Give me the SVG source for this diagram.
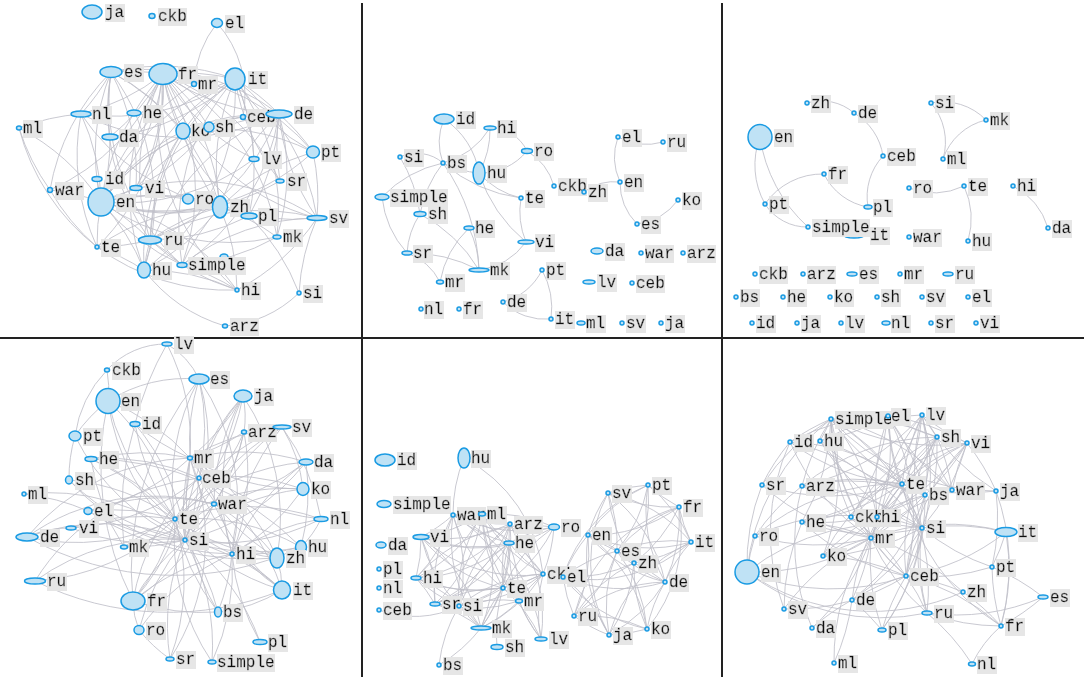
<svg xmlns="http://www.w3.org/2000/svg" width="1084" height="681" viewBox="0 0 1084 681">
<defs>
<filter id="lb" x="0" y="0" width="1" height="1"><feFlood flood-color="#e6e6e6"/><feComposite in="SourceGraphic" operator="over"/></filter>
</defs>
<style>
.e path{fill:none;stroke:#bfbfc9;stroke-width:1;stroke-opacity:.85}
.n ellipse{fill:#bfe2f5;stroke:#1a9be3;stroke-width:1.5}
.n text{font-family:"Liberation Mono","DejaVu Sans Mono",monospace;font-size:16px;fill:#111;stroke:#111;stroke-width:0.3;filter:url(#lb)}
.sep{stroke:#222;stroke-width:2}
</style>
<rect width="1084" height="681" fill="#fff"/>
<g id="separators">
<line class="sep" x1="0" y1="338" x2="1084" y2="338"/>
<line class="sep" x1="362" y1="3" x2="362" y2="677"/>
<line class="sep" x1="722" y1="3" x2="722" y2="677"/>
</g>
<g id="connectors" class="e">
<g id="edges-p1">
<path d="M101 202A220 220 0 0 1 111 72"/><path d="M101 202A220 220 0 0 0 163 74"/><path d="M101 202A220 220 0 0 1 235 79"/><path d="M101 202A220 220 0 0 0 81 114"/><path d="M101 202A220 220 0 0 1 134 113"/><path d="M101 202A220 220 0 0 0 110 137"/><path d="M101 202A220 220 0 0 1 183 131"/><path d="M101 202A220 220 0 0 0 209 127"/><path d="M101 202A220 220 0 0 1 279 114"/><path d="M101 202A220 220 0 0 0 313 152"/><path d="M101 202A220 220 0 0 1 97 179"/><path d="M101 202A220 220 0 0 0 50 190"/><path d="M101 202A220 220 0 0 1 188 199"/><path d="M101 202A220 220 0 0 0 220 207"/><path d="M101 202A220 220 0 0 1 249 216"/><path d="M101 202A220 220 0 0 0 280 181"/><path d="M101 202A220 220 0 0 1 317 218"/><path d="M101 202A220 220 0 0 0 277 237"/><path d="M101 202A220 220 0 0 1 150 240"/><path d="M101 202A220 220 0 0 0 97 247"/><path d="M101 202A220 220 0 0 1 144 270"/><path d="M101 202A220 220 0 0 0 182 265"/><path d="M101 202A220 220 0 0 1 237 290"/><path d="M101 202A220 220 0 0 0 19 128"/><path d="M101 202A220 220 0 0 1 243 117"/><path d="M101 202A220 220 0 0 0 254 159"/><path d="M101 202A220 220 0 0 1 194 84"/>
<path d="M163 74A220 220 0 0 1 235 79"/><path d="M163 74A220 220 0 0 0 111 72"/><path d="M163 74A220 220 0 0 1 81 114"/><path d="M163 74A220 220 0 0 0 134 113"/><path d="M163 74A220 220 0 0 1 110 137"/><path d="M163 74A220 220 0 0 0 183 131"/><path d="M163 74A220 220 0 0 1 209 127"/><path d="M163 74A220 220 0 0 0 279 114"/><path d="M163 74A220 220 0 0 1 313 152"/><path d="M163 74A220 220 0 0 0 254 159"/><path d="M163 74A220 220 0 0 1 136 188"/><path d="M163 74A220 220 0 0 0 188 199"/><path d="M163 74A220 220 0 0 1 220 207"/><path d="M163 74A220 220 0 0 0 249 216"/><path d="M163 74A220 220 0 0 1 280 181"/><path d="M163 74A220 220 0 0 0 317 218"/><path d="M163 74A220 220 0 0 1 277 237"/><path d="M163 74A220 220 0 0 0 150 240"/><path d="M163 74A220 220 0 0 1 97 247"/><path d="M163 74A220 220 0 0 0 144 270"/><path d="M163 74A220 220 0 0 1 182 265"/><path d="M163 74A220 220 0 0 0 237 290"/><path d="M163 74A220 220 0 0 1 50 190"/>
<path d="M235 79A220 220 0 0 0 111 72"/><path d="M235 79A220 220 0 0 1 81 114"/><path d="M235 79A220 220 0 0 0 183 131"/><path d="M235 79A220 220 0 0 1 279 114"/><path d="M235 79A220 220 0 0 0 313 152"/><path d="M235 79A220 220 0 0 1 254 159"/><path d="M235 79A220 220 0 0 0 220 207"/><path d="M235 79A220 220 0 0 1 249 216"/><path d="M235 79A220 220 0 0 0 280 181"/><path d="M235 79A220 220 0 0 1 317 218"/><path d="M235 79A220 220 0 0 0 150 240"/><path d="M235 79A220 220 0 0 1 144 270"/><path d="M235 79A220 220 0 0 0 182 265"/><path d="M235 79A220 220 0 0 1 277 237"/><path d="M235 79A220 220 0 0 0 136 188"/><path d="M235 79A220 220 0 0 1 110 137"/>
<path d="M279 114A220 220 0 0 0 111 72"/><path d="M279 114A220 220 0 0 1 81 114"/><path d="M279 114A220 220 0 0 0 183 131"/><path d="M279 114A220 220 0 0 1 313 152"/><path d="M279 114A220 220 0 0 0 220 207"/><path d="M279 114A220 220 0 0 1 249 216"/><path d="M279 114A220 220 0 0 0 317 218"/><path d="M279 114A220 220 0 0 1 150 240"/><path d="M279 114A220 220 0 0 0 144 270"/><path d="M279 114A220 220 0 0 1 182 265"/><path d="M279 114A220 220 0 0 0 280 181"/><path d="M279 114A220 220 0 0 1 277 237"/><path d="M279 114A220 220 0 0 0 136 188"/>
<path d="M220 207A220 220 0 0 1 183 131"/><path d="M220 207A220 220 0 0 0 111 72"/><path d="M220 207A220 220 0 0 1 81 114"/><path d="M220 207A220 220 0 0 0 150 240"/><path d="M220 207A220 220 0 0 1 144 270"/><path d="M220 207A220 220 0 0 0 182 265"/><path d="M220 207A220 220 0 0 1 313 152"/><path d="M220 207A220 220 0 0 0 317 218"/><path d="M220 207A220 220 0 0 1 277 237"/><path d="M220 207A220 220 0 0 0 97 247"/><path d="M220 207A220 220 0 0 1 237 290"/>
<path d="M111 72A220 220 0 0 1 81 114"/><path d="M111 72A220 220 0 0 0 110 137"/><path d="M111 72A220 220 0 0 1 183 131"/><path d="M111 72A220 220 0 0 0 150 240"/><path d="M111 72A220 220 0 0 1 144 270"/><path d="M111 72A220 220 0 0 0 182 265"/><path d="M111 72A220 220 0 0 1 136 188"/><path d="M111 72A220 220 0 0 0 50 190"/>
<path d="M150 240A220 220 0 0 1 183 131"/><path d="M150 240A220 220 0 0 0 144 270"/><path d="M150 240A220 220 0 0 1 182 265"/><path d="M150 240A220 220 0 0 0 249 216"/><path d="M150 240A220 220 0 0 1 317 218"/><path d="M150 240A220 220 0 0 0 237 290"/><path d="M150 240A220 220 0 0 1 97 247"/>
<path d="M182 265A220 220 0 0 1 237 290"/><path d="M182 265A220 220 0 0 0 277 237"/><path d="M182 265A220 220 0 0 1 317 218"/><path d="M183 131A220 220 0 0 0 144 270"/><path d="M183 131A220 220 0 0 1 313 152"/><path d="M144 270A220 220 0 0 1 237 290"/><path d="M144 270A220 220 0 0 0 97 247"/><path d="M144 270A160 160 0 0 0 225 326"/><path d="M299 293A120 120 0 0 1 225 326"/><path d="M299 293A220 220 0 0 0 249 216"/><path d="M299 293A220 220 0 0 1 317 218"/><path d="M217 23A110 110 0 0 0 194 84"/><path d="M217 23A110 110 0 0 1 243 117"/><path d="M19 128A220 220 0 0 0 97 247"/><path d="M19 128A220 220 0 0 1 81 114"/><path d="M19 128A220 220 0 0 0 50 190"/><path d="M50 190A220 220 0 0 0 97 247"/><path d="M97 247A220 220 0 0 0 237 290"/><path d="M81 114A220 220 0 0 0 97 247"/><path d="M317 218A220 220 0 0 1 237 290"/><path d="M313 152A220 220 0 0 1 317 218"/>
</g>
<g id="edges-p2">
<path d="M444 119A60 60 0 0 0 443 163"/><path d="M444 119A80 80 0 0 1 479 173"/><path d="M490 128A80 80 0 0 1 443 163"/><path d="M490 128A90 90 0 0 1 479 173"/><path d="M490 128A40 40 0 0 1 527 151"/><path d="M527 151A60 60 0 0 1 479 173"/><path d="M527 151A60 60 0 0 1 554 186"/><path d="M400 157A40 40 0 0 1 443 163"/><path d="M400 157A150 150 0 0 1 420 214"/><path d="M443 163A100 100 0 0 0 479 173"/><path d="M443 163A150 150 0 0 0 521 198"/><path d="M443 163A120 120 0 0 0 382 197"/><path d="M443 163A120 120 0 0 0 420 214"/><path d="M443 163A200 200 0 0 1 479 270"/><path d="M479 173A80 80 0 0 0 521 198"/><path d="M479 173A150 150 0 0 0 526 242"/><path d="M382 197A100 100 0 0 0 407 253"/><path d="M420 214A80 80 0 0 0 407 253"/><path d="M420 214A150 150 0 0 1 479 270"/><path d="M469 228A100 100 0 0 0 440 282"/><path d="M469 228A100 100 0 0 1 479 270"/><path d="M407 253A60 60 0 0 1 440 282"/><path d="M407 253A150 150 0 0 1 479 270"/><path d="M521 198A80 80 0 0 0 526 242"/><path d="M526 242A70 70 0 0 1 479 270"/><path d="M618 137A60 60 0 0 0 620 182"/><path d="M618 137A60 60 0 0 0 663 142"/><path d="M584 192A50 50 0 0 1 620 182"/><path d="M620 182A60 60 0 0 0 637 224"/><path d="M637 224A60 60 0 0 0 678 200"/><path d="M542 270A60 60 0 0 1 503 302"/><path d="M542 270A80 80 0 0 1 551 319"/><path d="M503 302A60 60 0 0 0 551 319"/>
</g>
<g id="edges-p3">
<path d="M807 103A50 50 0 0 1 854 113"/><path d="M854 113A60 60 0 0 1 883 156"/><path d="M883 156A60 60 0 0 0 868 207"/><path d="M931 103A60 60 0 0 1 986 120"/><path d="M931 103A60 60 0 0 1 943 159"/><path d="M986 120A60 60 0 0 0 943 159"/><path d="M760 137A80 80 0 0 0 765 204"/><path d="M760 137A150 150 0 0 0 808 227"/><path d="M824 174A70 70 0 0 0 765 204"/><path d="M765 204A50 50 0 0 0 808 227"/><path d="M824 174A60 60 0 0 0 868 207"/><path d="M909 188A70 70 0 0 0 964 186"/><path d="M964 186A80 80 0 0 1 968 241"/><path d="M1013 186A70 70 0 0 1 1048 228"/>
</g>
<g id="edges-p4">
<path d="M185 540A220 220 0 0 1 108 401"/><path d="M185 540A220 220 0 0 0 199 379"/><path d="M185 540A220 220 0 0 1 243 396"/><path d="M185 540A220 220 0 0 0 135 424"/><path d="M185 540A220 220 0 0 1 75 436"/><path d="M185 540A220 220 0 0 0 244 432"/><path d="M185 540A220 220 0 0 1 282 427"/><path d="M185 540A220 220 0 0 0 91 459"/><path d="M185 540A220 220 0 0 1 190 458"/><path d="M185 540A220 220 0 0 0 306 462"/><path d="M185 540A220 220 0 0 1 69 480"/><path d="M185 540A220 220 0 0 0 199 478"/><path d="M185 540A220 220 0 0 1 303 489"/><path d="M185 540A220 220 0 0 0 214 504"/><path d="M185 540A220 220 0 0 1 88 511"/><path d="M185 540A220 220 0 0 0 321 519"/><path d="M185 540A220 220 0 0 1 71 528"/><path d="M185 540A220 220 0 0 0 27 537"/><path d="M185 540A220 220 0 0 1 124 547"/><path d="M185 540A220 220 0 0 0 301 547"/><path d="M185 540A220 220 0 0 1 277 558"/><path d="M185 540A220 220 0 0 0 35 581"/><path d="M185 540A220 220 0 0 1 282 590"/><path d="M185 540A220 220 0 0 0 133 601"/><path d="M185 540A220 220 0 0 1 218 612"/><path d="M185 540A220 220 0 0 0 139 630"/><path d="M185 540A220 220 0 0 1 260 642"/><path d="M185 540A220 220 0 0 0 170 659"/><path d="M185 540A220 220 0 0 1 212 662"/><path d="M185 540A220 220 0 0 0 24 494"/>
<path d="M175 519A220 220 0 0 0 108 401"/><path d="M175 519A220 220 0 0 1 199 379"/><path d="M175 519A220 220 0 0 0 243 396"/><path d="M175 519A220 220 0 0 1 135 424"/><path d="M175 519A220 220 0 0 0 244 432"/><path d="M175 519A220 220 0 0 1 282 427"/><path d="M175 519A220 220 0 0 0 91 459"/><path d="M175 519A220 220 0 0 1 306 462"/><path d="M175 519A220 220 0 0 0 69 480"/><path d="M175 519A220 220 0 0 1 303 489"/><path d="M175 519A220 220 0 0 0 88 511"/><path d="M175 519A220 220 0 0 1 321 519"/><path d="M175 519A220 220 0 0 0 71 528"/><path d="M175 519A220 220 0 0 1 27 537"/><path d="M175 519A220 220 0 0 0 124 547"/><path d="M175 519A220 220 0 0 1 301 547"/><path d="M175 519A220 220 0 0 0 277 558"/><path d="M175 519A220 220 0 0 1 35 581"/><path d="M175 519A220 220 0 0 0 282 590"/><path d="M175 519A220 220 0 0 1 133 601"/><path d="M175 519A220 220 0 0 0 218 612"/><path d="M175 519A220 220 0 0 1 170 659"/><path d="M175 519A220 220 0 0 0 212 662"/>
<path d="M232 554A220 220 0 0 1 108 401"/><path d="M232 554A220 220 0 0 0 199 379"/><path d="M232 554A220 220 0 0 1 243 396"/><path d="M232 554A220 220 0 0 0 244 432"/><path d="M232 554A220 220 0 0 1 282 427"/><path d="M232 554A220 220 0 0 0 190 458"/><path d="M232 554A220 220 0 0 1 306 462"/><path d="M232 554A220 220 0 0 0 303 489"/><path d="M232 554A220 220 0 0 1 321 519"/><path d="M232 554A220 220 0 0 0 301 547"/><path d="M232 554A220 220 0 0 1 282 590"/><path d="M232 554A220 220 0 0 0 133 601"/><path d="M232 554A220 220 0 0 1 218 612"/><path d="M232 554A220 220 0 0 0 260 642"/><path d="M232 554A220 220 0 0 1 212 662"/><path d="M232 554A220 220 0 0 0 139 630"/><path d="M232 554A220 220 0 0 1 69 480"/>
<path d="M190 458A220 220 0 0 0 108 401"/><path d="M190 458A220 220 0 0 1 199 379"/><path d="M190 458A220 220 0 0 0 243 396"/><path d="M190 458A220 220 0 0 1 135 424"/><path d="M190 458A220 220 0 0 0 244 432"/><path d="M190 458A220 220 0 0 1 282 427"/><path d="M190 458A220 220 0 0 0 91 459"/><path d="M190 458A220 220 0 0 1 306 462"/><path d="M190 458A220 220 0 0 0 303 489"/><path d="M190 458A220 220 0 0 1 88 511"/><path d="M190 458A220 220 0 0 0 321 519"/><path d="M190 458A220 220 0 0 1 277 558"/><path d="M190 458A220 220 0 0 0 282 590"/><path d="M190 458A220 220 0 0 1 133 601"/><path d="M190 458A220 220 0 0 0 218 612"/><path d="M190 458A220 220 0 0 1 170 659"/><path d="M190 458A220 220 0 0 0 27 537"/>
<path d="M214 504A220 220 0 0 1 243 396"/><path d="M214 504A220 220 0 0 0 244 432"/><path d="M214 504A220 220 0 0 1 282 427"/><path d="M214 504A220 220 0 0 0 306 462"/><path d="M214 504A220 220 0 0 1 277 558"/><path d="M214 504A220 220 0 0 0 282 590"/><path d="M214 504A220 220 0 0 1 133 601"/><path d="M214 504A220 220 0 0 0 88 511"/><path d="M214 504A220 220 0 0 1 124 547"/><path d="M214 504A220 220 0 0 0 27 537"/>
<path d="M199 478A220 220 0 0 0 199 379"/><path d="M199 478A220 220 0 0 1 243 396"/><path d="M199 478A220 220 0 0 0 91 459"/><path d="M199 478A220 220 0 0 1 303 489"/><path d="M199 478A220 220 0 0 0 277 558"/><path d="M199 478A220 220 0 0 1 282 590"/><path d="M199 478A220 220 0 0 0 133 601"/><path d="M199 478A220 220 0 0 1 71 528"/><path d="M199 478A220 220 0 0 0 35 581"/>
<path d="M167 344A80 80 0 0 0 107 370"/><path d="M167 344A80 80 0 0 1 199 379"/><path d="M167 344A300 300 0 0 0 135 424"/><path d="M167 344A220 220 0 0 1 190 458"/><path d="M107 370A120 120 0 0 0 75 436"/><path d="M107 370A100 100 0 0 1 108 401"/><path d="M199 379A150 150 0 0 0 108 401"/><path d="M243 396A100 100 0 0 1 244 432"/><path d="M244 432A100 100 0 0 1 282 427"/><path d="M282 427A150 150 0 0 1 303 489"/><path d="M282 427A220 220 0 0 1 321 519"/><path d="M306 462A220 220 0 0 1 301 547"/><path d="M321 519A100 100 0 0 1 301 547"/><path d="M277 558A100 100 0 0 1 282 590"/><path d="M282 590A150 150 0 0 1 218 612"/><path d="M133 601A80 80 0 0 0 139 630"/><path d="M133 601A220 220 0 0 0 218 612"/><path d="M139 630A150 150 0 0 0 170 659"/><path d="M75 436A150 150 0 0 0 69 480"/><path d="M91 459A220 220 0 0 0 124 547"/><path d="M24 494A220 220 0 0 1 88 511"/><path d="M27 537A100 100 0 0 1 71 528"/><path d="M35 581A300 300 0 0 0 282 590"/><path d="M108 401A150 150 0 0 0 75 436"/><path d="M108 401A300 300 0 0 0 133 601"/><path d="M135 424A300 300 0 0 0 124 547"/><path d="M91 459A300 300 0 0 1 301 547"/><path d="M88 511A300 300 0 0 0 277 558"/><path d="M27 537A300 300 0 0 0 301 547"/><path d="M243 396A220 220 0 0 1 277 558"/><path d="M199 379A300 300 0 0 0 133 601"/>
</g>
<g id="edges-p5">
<path d="M453 515A150 150 0 0 1 482 514"/><path d="M453 515A150 150 0 0 0 510 524"/><path d="M453 515A150 150 0 0 1 421 537"/><path d="M453 515A150 150 0 0 0 509 543"/><path d="M453 515A150 150 0 0 1 416 578"/><path d="M453 515A150 150 0 0 0 503 588"/><path d="M453 515A150 150 0 0 1 519 601"/><path d="M453 515A150 150 0 0 0 435 604"/><path d="M453 515A150 150 0 0 1 459 606"/><path d="M453 515A150 150 0 0 0 481 628"/><path d="M453 515A150 150 0 0 1 543 574"/><path d="M453 515A150 150 0 0 0 554 527"/><path d="M453 515A150 150 0 0 1 541 639"/>
<path d="M482 514A150 150 0 0 0 510 524"/><path d="M482 514A150 150 0 0 1 421 537"/><path d="M482 514A150 150 0 0 0 509 543"/><path d="M482 514A150 150 0 0 1 416 578"/><path d="M482 514A150 150 0 0 0 503 588"/><path d="M482 514A150 150 0 0 1 435 604"/><path d="M482 514A150 150 0 0 0 459 606"/><path d="M482 514A150 150 0 0 1 481 628"/><path d="M482 514A150 150 0 0 0 543 574"/><path d="M482 514A150 150 0 0 1 554 527"/><path d="M482 514A150 150 0 0 0 519 601"/>
<path d="M510 524A150 150 0 0 1 421 537"/><path d="M510 524A150 150 0 0 0 509 543"/><path d="M510 524A150 150 0 0 1 416 578"/><path d="M510 524A150 150 0 0 0 503 588"/><path d="M510 524A150 150 0 0 1 435 604"/><path d="M510 524A150 150 0 0 0 459 606"/><path d="M510 524A150 150 0 0 1 481 628"/><path d="M510 524A150 150 0 0 0 543 574"/><path d="M510 524A150 150 0 0 1 541 639"/>
<path d="M554 527A150 150 0 0 1 421 537"/><path d="M554 527A150 150 0 0 0 509 543"/><path d="M554 527A150 150 0 0 1 543 574"/><path d="M554 527A150 150 0 0 0 503 588"/><path d="M554 527A150 150 0 0 1 459 606"/><path d="M554 527A150 150 0 0 0 416 578"/>
<path d="M421 537A150 150 0 0 0 509 543"/><path d="M421 537A150 150 0 0 1 416 578"/><path d="M421 537A150 150 0 0 0 503 588"/><path d="M421 537A150 150 0 0 1 435 604"/><path d="M421 537A150 150 0 0 0 459 606"/><path d="M421 537A150 150 0 0 1 481 628"/><path d="M421 537A150 150 0 0 0 543 574"/>
<path d="M509 543A150 150 0 0 1 416 578"/><path d="M509 543A150 150 0 0 0 503 588"/><path d="M509 543A150 150 0 0 1 435 604"/><path d="M509 543A150 150 0 0 0 459 606"/><path d="M509 543A150 150 0 0 1 481 628"/><path d="M509 543A150 150 0 0 0 543 574"/><path d="M509 543A150 150 0 0 1 519 601"/><path d="M509 543A150 150 0 0 0 541 639"/>
<path d="M416 578A150 150 0 0 0 503 588"/><path d="M416 578A150 150 0 0 1 435 604"/><path d="M416 578A150 150 0 0 0 459 606"/><path d="M416 578A150 150 0 0 1 481 628"/><path d="M416 578A150 150 0 0 0 543 574"/>
<path d="M543 574A150 150 0 0 1 503 588"/><path d="M543 574A150 150 0 0 0 519 601"/><path d="M543 574A150 150 0 0 1 435 604"/><path d="M543 574A150 150 0 0 0 459 606"/><path d="M543 574A150 150 0 0 1 481 628"/><path d="M543 574A150 150 0 0 0 541 639"/>
<path d="M503 588A150 150 0 0 1 519 601"/><path d="M503 588A150 150 0 0 0 435 604"/><path d="M503 588A150 150 0 0 1 459 606"/><path d="M503 588A150 150 0 0 0 481 628"/><path d="M503 588A150 150 0 0 1 541 639"/>
<path d="M519 601A150 150 0 0 0 459 606"/><path d="M519 601A150 150 0 0 1 481 628"/><path d="M519 601A150 150 0 0 0 541 639"/><path d="M519 601A150 150 0 0 1 435 604"/><path d="M435 604A150 150 0 0 0 459 606"/><path d="M435 604A150 150 0 0 1 481 628"/><path d="M459 606A150 150 0 0 0 481 628"/><path d="M481 628A150 150 0 0 1 439 665"/><path d="M497 647A150 150 0 0 1 503 588"/><path d="M464 458A150 150 0 0 0 453 515"/><path d="M464 458A150 150 0 0 1 543 574"/><path d="M379 610A100 100 0 0 0 459 606"/><path d="M439 665A150 150 0 0 1 459 606"/>
<path d="M608 493A150 150 0 0 0 588 535"/><path d="M608 493A150 150 0 0 1 617 551"/><path d="M608 493A150 150 0 0 0 634 563"/><path d="M608 493A150 150 0 0 1 648 485"/><path d="M608 493A150 150 0 0 0 679 507"/><path d="M608 493A150 150 0 0 1 665 582"/><path d="M608 493A150 150 0 0 0 609 635"/><path d="M608 493A150 150 0 0 1 691 542"/>
<path d="M648 485A150 150 0 0 0 588 535"/><path d="M648 485A150 150 0 0 1 617 551"/><path d="M648 485A150 150 0 0 0 679 507"/><path d="M648 485A150 150 0 0 1 691 542"/><path d="M648 485A150 150 0 0 0 665 582"/><path d="M648 485A150 150 0 0 1 634 563"/><path d="M648 485A150 150 0 0 0 563 577"/>
<path d="M679 507A150 150 0 0 1 588 535"/><path d="M679 507A150 150 0 0 0 617 551"/><path d="M679 507A150 150 0 0 1 634 563"/><path d="M679 507A150 150 0 0 0 691 542"/><path d="M679 507A150 150 0 0 1 665 582"/><path d="M679 507A150 150 0 0 0 574 616"/><path d="M679 507A150 150 0 0 1 647 629"/>
<path d="M691 542A150 150 0 0 1 588 535"/><path d="M691 542A150 150 0 0 0 617 551"/><path d="M691 542A150 150 0 0 1 634 563"/><path d="M691 542A150 150 0 0 0 665 582"/><path d="M691 542A150 150 0 0 1 563 577"/><path d="M691 542A150 150 0 0 0 609 635"/>
<path d="M588 535A150 150 0 0 0 617 551"/><path d="M588 535A150 150 0 0 1 634 563"/><path d="M588 535A150 150 0 0 0 563 577"/><path d="M588 535A150 150 0 0 1 574 616"/><path d="M588 535A150 150 0 0 0 609 635"/><path d="M588 535A150 150 0 0 1 647 629"/><path d="M588 535A150 150 0 0 0 665 582"/>
<path d="M617 551A150 150 0 0 1 634 563"/><path d="M617 551A150 150 0 0 0 563 577"/><path d="M617 551A150 150 0 0 1 574 616"/><path d="M617 551A150 150 0 0 0 609 635"/><path d="M617 551A150 150 0 0 1 647 629"/><path d="M617 551A150 150 0 0 0 665 582"/>
<path d="M634 563A150 150 0 0 1 563 577"/><path d="M634 563A150 150 0 0 0 574 616"/><path d="M634 563A150 150 0 0 1 609 635"/><path d="M634 563A150 150 0 0 0 647 629"/><path d="M634 563A150 150 0 0 1 665 582"/>
<path d="M665 582A150 150 0 0 1 563 577"/><path d="M665 582A150 150 0 0 0 574 616"/><path d="M665 582A150 150 0 0 1 609 635"/><path d="M665 582A150 150 0 0 0 647 629"/><path d="M563 577A150 150 0 0 0 574 616"/><path d="M563 577A150 150 0 0 1 609 635"/><path d="M563 577A150 150 0 0 0 647 629"/><path d="M574 616A150 150 0 0 0 609 635"/><path d="M574 616A150 150 0 0 1 647 629"/><path d="M609 635A150 150 0 0 0 647 629"/>
</g>
<g id="edges-p6">
<path d="M831 419A220 220 0 0 0 790 442"/><path d="M831 419A220 220 0 0 1 820 441"/><path d="M831 419A220 220 0 0 0 802 486"/><path d="M831 419A220 220 0 0 1 902 484"/><path d="M831 419A220 220 0 0 0 925 495"/><path d="M831 419A220 220 0 0 1 952 490"/><path d="M831 419A220 220 0 0 0 851 517"/><path d="M831 419A220 220 0 0 1 877 517"/><path d="M831 419A220 220 0 0 0 871 538"/><path d="M831 419A220 220 0 0 1 922 528"/><path d="M831 419A220 220 0 0 0 906 576"/><path d="M831 419A220 220 0 0 1 937 437"/><path d="M831 419A220 220 0 0 0 967 443"/><path d="M831 419A220 220 0 0 1 802 522"/><path d="M831 419A220 220 0 0 0 996 491"/><path d="M831 419A220 220 0 0 1 823 556"/><path d="M831 419A220 220 0 0 0 762 485"/>
<path d="M888 416A220 220 0 0 1 820 441"/><path d="M888 416A220 220 0 0 0 902 484"/><path d="M888 416A220 220 0 0 1 925 495"/><path d="M888 416A220 220 0 0 0 952 490"/><path d="M888 416A220 220 0 0 1 851 517"/><path d="M888 416A220 220 0 0 0 877 517"/><path d="M888 416A220 220 0 0 1 871 538"/><path d="M888 416A220 220 0 0 0 922 528"/><path d="M888 416A220 220 0 0 1 906 576"/><path d="M888 416A220 220 0 0 0 937 437"/><path d="M888 416A220 220 0 0 1 967 443"/><path d="M888 416A220 220 0 0 0 790 442"/>
<path d="M922 415A220 220 0 0 0 820 441"/><path d="M922 415A220 220 0 0 1 802 486"/><path d="M922 415A220 220 0 0 0 902 484"/><path d="M922 415A220 220 0 0 1 925 495"/><path d="M922 415A220 220 0 0 0 952 490"/><path d="M922 415A220 220 0 0 1 851 517"/><path d="M922 415A220 220 0 0 0 877 517"/><path d="M922 415A220 220 0 0 1 871 538"/><path d="M922 415A220 220 0 0 0 922 528"/><path d="M922 415A220 220 0 0 1 937 437"/><path d="M922 415A220 220 0 0 0 967 443"/><path d="M922 415A220 220 0 0 1 906 576"/><path d="M922 415A220 220 0 0 0 996 491"/>
<path d="M937 437A220 220 0 0 1 902 484"/><path d="M937 437A220 220 0 0 0 925 495"/><path d="M937 437A220 220 0 0 1 952 490"/><path d="M937 437A220 220 0 0 0 851 517"/><path d="M937 437A220 220 0 0 1 877 517"/><path d="M937 437A220 220 0 0 0 871 538"/><path d="M937 437A220 220 0 0 1 922 528"/><path d="M937 437A220 220 0 0 0 906 576"/><path d="M937 437A220 220 0 0 1 802 522"/><path d="M937 437A220 220 0 0 0 802 486"/>
<path d="M967 443A220 220 0 0 0 902 484"/><path d="M967 443A220 220 0 0 1 925 495"/><path d="M967 443A220 220 0 0 0 952 490"/><path d="M967 443A220 220 0 0 1 877 517"/><path d="M967 443A220 220 0 0 0 871 538"/><path d="M967 443A220 220 0 0 1 922 528"/><path d="M967 443A220 220 0 0 0 906 576"/><path d="M967 443A220 220 0 0 1 996 491"/><path d="M967 443A220 220 0 0 0 823 556"/>
<path d="M871 538A220 220 0 0 1 790 442"/><path d="M871 538A220 220 0 0 0 820 441"/><path d="M871 538A220 220 0 0 1 762 485"/><path d="M871 538A220 220 0 0 0 802 486"/><path d="M871 538A220 220 0 0 1 902 484"/><path d="M871 538A220 220 0 0 0 925 495"/><path d="M871 538A220 220 0 0 1 952 490"/><path d="M871 538A220 220 0 0 0 802 522"/><path d="M871 538A220 220 0 0 1 755 536"/><path d="M871 538A220 220 0 0 0 823 556"/><path d="M871 538A220 220 0 0 1 747 572"/><path d="M871 538A220 220 0 0 0 906 576"/><path d="M871 538A220 220 0 0 1 852 600"/><path d="M871 538A220 220 0 0 0 882 630"/><path d="M871 538A220 220 0 0 1 963 592"/><path d="M871 538A220 220 0 0 0 927 613"/><path d="M871 538A220 220 0 0 1 1006 532"/><path d="M871 538A220 220 0 0 0 784 609"/><path d="M871 538A220 220 0 0 1 812 628"/><path d="M871 538A220 220 0 0 0 834 663"/>
<path d="M906 576A220 220 0 0 1 802 522"/><path d="M906 576A220 220 0 0 0 823 556"/><path d="M906 576A220 220 0 0 1 747 572"/><path d="M906 576A220 220 0 0 0 992 567"/><path d="M906 576A220 220 0 0 1 963 592"/><path d="M906 576A220 220 0 0 0 852 600"/><path d="M906 576A220 220 0 0 1 927 613"/><path d="M906 576A220 220 0 0 0 882 630"/><path d="M906 576A220 220 0 0 1 1001 626"/><path d="M906 576A220 220 0 0 0 1006 532"/><path d="M906 576A220 220 0 0 1 922 528"/><path d="M906 576A220 220 0 0 0 851 517"/><path d="M906 576A220 220 0 0 1 784 609"/>
<path d="M922 528A220 220 0 0 0 790 442"/><path d="M922 528A220 220 0 0 1 820 441"/><path d="M922 528A220 220 0 0 0 802 486"/><path d="M922 528A220 220 0 0 1 802 522"/><path d="M922 528A220 220 0 0 0 755 536"/><path d="M922 528A220 220 0 0 1 823 556"/><path d="M922 528A220 220 0 0 0 992 567"/><path d="M922 528A220 220 0 0 1 852 600"/><path d="M922 528A220 220 0 0 0 927 613"/><path d="M922 528A220 220 0 0 1 882 630"/><path d="M922 528A220 220 0 0 0 747 572"/><path d="M922 528A220 220 0 0 1 1006 532"/>
<path d="M902 484A220 220 0 0 1 790 442"/><path d="M902 484A220 220 0 0 0 820 441"/><path d="M902 484A220 220 0 0 1 762 485"/><path d="M902 484A220 220 0 0 0 802 486"/><path d="M902 484A220 220 0 0 1 802 522"/><path d="M902 484A220 220 0 0 0 755 536"/><path d="M902 484A220 220 0 0 1 823 556"/><path d="M902 484A220 220 0 0 0 852 600"/><path d="M902 484A220 220 0 0 1 927 613"/><path d="M902 484A220 220 0 0 0 996 491"/>
<path d="M925 495A220 220 0 0 0 790 442"/><path d="M925 495A220 220 0 0 1 820 441"/><path d="M925 495A220 220 0 0 0 802 486"/><path d="M925 495A220 220 0 0 1 802 522"/><path d="M925 495A220 220 0 0 0 823 556"/><path d="M925 495A220 220 0 0 1 882 630"/><path d="M925 495A220 220 0 0 0 927 613"/><path d="M925 495A220 220 0 0 1 852 600"/>
<path d="M1001 626A220 220 0 0 0 1043 597"/><path d="M1001 626A120 120 0 0 0 972 664"/><path d="M1001 626A220 220 0 0 1 992 567"/><path d="M1001 626A220 220 0 0 0 1006 532"/><path d="M1001 626A220 220 0 0 1 927 613"/><path d="M1001 626A220 220 0 0 0 963 592"/><path d="M1001 626A220 220 0 0 1 902 484"/>
<path d="M747 572A220 220 0 0 1 755 536"/><path d="M747 572A220 220 0 0 1 762 485"/><path d="M747 572A220 220 0 0 0 963 592"/><path d="M747 572A220 220 0 0 0 927 613"/><path d="M747 572A220 220 0 0 1 831 419"/><path d="M1043 597A220 220 0 0 0 992 567"/><path d="M1043 597A220 220 0 0 1 927 613"/><path d="M834 663A220 220 0 0 0 852 600"/><path d="M784 609A220 220 0 0 1 802 522"/><path d="M812 628A220 220 0 0 1 852 600"/><path d="M882 630A220 220 0 0 0 852 600"/><path d="M790 442A220 220 0 0 0 762 485"/><path d="M755 536A220 220 0 0 1 802 486"/><path d="M996 491A220 220 0 0 1 992 567"/><path d="M1006 532A220 220 0 0 1 992 567"/><path d="M996 491A220 220 0 0 1 1001 626"/><path d="M790 442A220 220 0 0 0 784 609"/><path d="M802 486A220 220 0 0 0 812 628"/><path d="M972 664A220 220 0 0 0 927 613"/>
</g>
</g>
<g id="nodes-p1" class="n">
<g id="p1-ja"><ellipse cx="92" cy="12" rx="10" ry="7"/><text x="105" y="17">ja</text></g>
<g id="p1-ckb"><ellipse cx="152" cy="16" rx="3" ry="2.5"/><text x="158" y="21">ckb</text></g>
<g id="p1-el"><ellipse cx="217" cy="23" rx="5.5" ry="4.5"/><text x="225" y="28">el</text></g>
<g id="p1-es"><ellipse cx="111" cy="72" rx="11" ry="5.5"/><text x="124" y="77">es</text></g>
<g id="p1-fr"><ellipse cx="163" cy="74" rx="14" ry="10.5"/><text x="178" y="79">fr</text></g>
<g id="p1-mr"><ellipse cx="194" cy="84" rx="2.5" ry="2.5"/><text x="198" y="89">mr</text></g>
<g id="p1-it"><ellipse cx="235" cy="79" rx="10" ry="11"/><text x="248" y="84">it</text></g>
<g id="p1-nl"><ellipse cx="81" cy="114" rx="10" ry="3"/><text x="92" y="119">nl</text></g>
<g id="p1-he"><ellipse cx="134" cy="113" rx="7" ry="3"/><text x="143" y="118">he</text></g>
<g id="p1-ml"><ellipse cx="19" cy="128" rx="2.5" ry="2"/><text x="23" y="133">ml</text></g>
<g id="p1-da"><ellipse cx="110" cy="137" rx="8" ry="3"/><text x="119" y="142">da</text></g>
<g id="p1-ko"><ellipse cx="183" cy="131" rx="7" ry="8"/><text x="191" y="136">ko</text></g>
<g id="p1-sh"><ellipse cx="209" cy="127" rx="5" ry="5"/><text x="215" y="132">sh</text></g>
<g id="p1-ceb"><ellipse cx="243" cy="117" rx="2.5" ry="2.5"/><text x="247" y="122">ceb</text></g>
<g id="p1-de"><ellipse cx="279" cy="114" rx="13" ry="4"/><text x="294" y="119">de</text></g>
<g id="p1-pt"><ellipse cx="313" cy="152" rx="6.5" ry="6"/><text x="321" y="157">pt</text></g>
<g id="p1-lv"><ellipse cx="254" cy="159" rx="5" ry="2.5"/><text x="262" y="164">lv</text></g>
<g id="p1-id"><ellipse cx="97" cy="179" rx="5" ry="2.5"/><text x="105" y="184">id</text></g>
<g id="p1-war"><ellipse cx="50" cy="190" rx="2.5" ry="2.5"/><text x="55" y="195">war</text></g>
<g id="p1-vi"><ellipse cx="136" cy="188" rx="6" ry="2.5"/><text x="145" y="193">vi</text></g>
<g id="p1-en"><ellipse cx="101" cy="202" rx="13" ry="14"/><text x="116" y="207">en</text></g>
<g id="p1-ro"><ellipse cx="188" cy="199" rx="5.5" ry="5"/><text x="195" y="204">ro</text></g>
<g id="p1-zh"><ellipse cx="220" cy="207" rx="7.5" ry="11"/><text x="230" y="212">zh</text></g>
<g id="p1-pl"><ellipse cx="249" cy="216" rx="8" ry="3"/><text x="258" y="221">pl</text></g>
<g id="p1-sr"><ellipse cx="280" cy="181" rx="4" ry="2"/><text x="287" y="186">sr</text></g>
<g id="p1-sv"><ellipse cx="317" cy="218" rx="10" ry="2.5"/><text x="329" y="223">sv</text></g>
<g id="p1-mk"><ellipse cx="277" cy="237" rx="4" ry="2"/><text x="283" y="242">mk</text></g>
<g id="p1-ru"><ellipse cx="150" cy="240" rx="11.5" ry="4"/><text x="164" y="245">ru</text></g>
<g id="p1-te"><ellipse cx="97" cy="247" rx="2" ry="2"/><text x="101" y="252">te</text></g>
<g id="p1-hu"><ellipse cx="144" cy="270" rx="6.5" ry="8"/><text x="152" y="275">hu</text></g>
<g id="p1-bs"><ellipse cx="224" cy="257" rx="4" ry="3"/></g>
<g id="p1-simple"><ellipse cx="182" cy="265" rx="5" ry="2.5"/><text x="188" y="270">simple</text></g>
<g id="p1-hi"><ellipse cx="237" cy="290" rx="2" ry="2"/><text x="241" y="295">hi</text></g>
<g id="p1-si"><ellipse cx="299" cy="293" rx="2" ry="2"/><text x="303" y="298">si</text></g>
<g id="p1-arz"><ellipse cx="225" cy="326" rx="2.5" ry="2"/><text x="230" y="331">arz</text></g>
</g>
<g id="nodes-p2" class="n">
<g id="p2-id"><ellipse cx="444" cy="119" rx="10" ry="5"/><text x="456" y="124">id</text></g>
<g id="p2-hi"><ellipse cx="490" cy="128" rx="6" ry="2"/><text x="497" y="133">hi</text></g>
<g id="p2-ro"><ellipse cx="527" cy="151" rx="5.5" ry="2.5"/><text x="534" y="156">ro</text></g>
<g id="p2-el"><ellipse cx="618" cy="137" rx="2" ry="2"/><text x="622" y="142">el</text></g>
<g id="p2-ru"><ellipse cx="663" cy="142" rx="2" ry="2"/><text x="667" y="147">ru</text></g>
<g id="p2-si"><ellipse cx="400" cy="157" rx="2" ry="2"/><text x="404" y="162">si</text></g>
<g id="p2-bs"><ellipse cx="443" cy="163" rx="2" ry="2"/><text x="447" y="168">bs</text></g>
<g id="p2-hu"><ellipse cx="479" cy="173" rx="6" ry="11"/><text x="487" y="178">hu</text></g>
<g id="p2-en"><ellipse cx="620" cy="182" rx="2" ry="2"/><text x="624" y="187">en</text></g>
<g id="p2-ckb"><ellipse cx="554" cy="186" rx="2" ry="2"/><text x="558" y="191">ckb</text></g>
<g id="p2-zh"><ellipse cx="584" cy="192" rx="2" ry="2"/><text x="588" y="197">zh</text></g>
<g id="p2-simple"><ellipse cx="382" cy="197" rx="7" ry="3"/><text x="390" y="202">simple</text></g>
<g id="p2-te"><ellipse cx="521" cy="198" rx="2" ry="2"/><text x="525" y="203">te</text></g>
<g id="p2-ko"><ellipse cx="678" cy="200" rx="2" ry="2"/><text x="682" y="205">ko</text></g>
<g id="p2-sh"><ellipse cx="420" cy="214" rx="6" ry="2.5"/><text x="428" y="219">sh</text></g>
<g id="p2-he"><ellipse cx="469" cy="228" rx="5" ry="2"/><text x="475" y="233">he</text></g>
<g id="p2-es"><ellipse cx="637" cy="224" rx="2" ry="2"/><text x="641" y="229">es</text></g>
<g id="p2-vi"><ellipse cx="526" cy="242" rx="8" ry="2"/><text x="535" y="247">vi</text></g>
<g id="p2-sr"><ellipse cx="407" cy="253" rx="5" ry="2"/><text x="413" y="258">sr</text></g>
<g id="p2-da"><ellipse cx="597" cy="251" rx="6" ry="3"/><text x="605" y="256">da</text></g>
<g id="p2-war"><ellipse cx="641" cy="253" rx="2" ry="2"/><text x="645" y="258">war</text></g>
<g id="p2-arz"><ellipse cx="683" cy="253" rx="2" ry="2"/><text x="687" y="258">arz</text></g>
<g id="p2-mk"><ellipse cx="479" cy="270" rx="10" ry="2"/><text x="490" y="275">mk</text></g>
<g id="p2-pt"><ellipse cx="542" cy="270" rx="2" ry="2"/><text x="546" y="275">pt</text></g>
<g id="p2-mr"><ellipse cx="440" cy="282" rx="3.5" ry="2"/><text x="445" y="287">mr</text></g>
<g id="p2-lv"><ellipse cx="589" cy="282" rx="6" ry="2"/><text x="597" y="287">lv</text></g>
<g id="p2-ceb"><ellipse cx="632" cy="283" rx="2" ry="2"/><text x="636" y="288">ceb</text></g>
<g id="p2-nl"><ellipse cx="421" cy="309" rx="2" ry="2"/><text x="424" y="314">nl</text></g>
<g id="p2-fr"><ellipse cx="459" cy="309" rx="2" ry="2"/><text x="463" y="314">fr</text></g>
<g id="p2-de"><ellipse cx="503" cy="302" rx="2" ry="2"/><text x="507" y="307">de</text></g>
<g id="p2-it"><ellipse cx="551" cy="319" rx="2" ry="2"/><text x="555" y="324">it</text></g>
<g id="p2-ml"><ellipse cx="581" cy="323" rx="4" ry="2"/><text x="586" y="328">ml</text></g>
<g id="p2-sv"><ellipse cx="622" cy="323" rx="2" ry="2"/><text x="626" y="328">sv</text></g>
<g id="p2-ja"><ellipse cx="661" cy="323" rx="2" ry="2"/><text x="665" y="328">ja</text></g>
</g>
<g id="nodes-p3" class="n">
<g id="p3-zh"><ellipse cx="807" cy="103" rx="2" ry="2"/><text x="811" y="108">zh</text></g>
<g id="p3-de"><ellipse cx="854" cy="113" rx="2" ry="2"/><text x="858" y="118">de</text></g>
<g id="p3-si"><ellipse cx="931" cy="103" rx="2" ry="2"/><text x="935" y="108">si</text></g>
<g id="p3-mk"><ellipse cx="986" cy="120" rx="2" ry="2"/><text x="990" y="125">mk</text></g>
<g id="p3-en"><ellipse cx="760" cy="137" rx="12" ry="12.5"/><text x="774" y="142">en</text></g>
<g id="p3-ceb"><ellipse cx="883" cy="156" rx="2" ry="2"/><text x="887" y="161">ceb</text></g>
<g id="p3-ml"><ellipse cx="943" cy="159" rx="2" ry="2"/><text x="947" y="164">ml</text></g>
<g id="p3-fr"><ellipse cx="824" cy="174" rx="2" ry="2"/><text x="828" y="179">fr</text></g>
<g id="p3-ro"><ellipse cx="909" cy="188" rx="2" ry="2"/><text x="913" y="193">ro</text></g>
<g id="p3-te"><ellipse cx="964" cy="186" rx="2" ry="2"/><text x="968" y="191">te</text></g>
<g id="p3-hi"><ellipse cx="1013" cy="186" rx="2" ry="2"/><text x="1017" y="191">hi</text></g>
<g id="p3-pt"><ellipse cx="765" cy="204" rx="2" ry="2"/><text x="769" y="209">pt</text></g>
<g id="p3-pl"><ellipse cx="868" cy="207" rx="4" ry="2"/><text x="873" y="212">pl</text></g>
<g id="p3-it"><ellipse cx="854" cy="235" rx="10" ry="3"/><text x="870" y="240">it</text></g>
<g id="p3-simple"><ellipse cx="808" cy="227" rx="2" ry="2"/><text x="812" y="232">simple</text></g>
<g id="p3-war"><ellipse cx="909" cy="237" rx="2" ry="2"/><text x="913" y="242">war</text></g>
<g id="p3-hu"><ellipse cx="968" cy="241" rx="2" ry="2"/><text x="972" y="246">hu</text></g>
<g id="p3-da"><ellipse cx="1048" cy="228" rx="2" ry="2"/><text x="1052" y="233">da</text></g>
<g id="p3-ckb"><ellipse cx="755" cy="274" rx="2" ry="2"/><text x="759" y="279">ckb</text></g>
<g id="p3-arz"><ellipse cx="803" cy="274" rx="2" ry="2"/><text x="807" y="279">arz</text></g>
<g id="p3-es"><ellipse cx="852" cy="274" rx="5" ry="2"/><text x="859" y="279">es</text></g>
<g id="p3-mr"><ellipse cx="900" cy="274" rx="2" ry="2"/><text x="904" y="279">mr</text></g>
<g id="p3-ru"><ellipse cx="948" cy="274" rx="5" ry="2"/><text x="955" y="279">ru</text></g>
<g id="p3-bs"><ellipse cx="736" cy="297" rx="2" ry="2"/><text x="740" y="302">bs</text></g>
<g id="p3-he"><ellipse cx="783" cy="297" rx="2" ry="2"/><text x="787" y="302">he</text></g>
<g id="p3-ko"><ellipse cx="830" cy="297" rx="2" ry="2"/><text x="834" y="302">ko</text></g>
<g id="p3-sh"><ellipse cx="877" cy="297" rx="2" ry="2"/><text x="881" y="302">sh</text></g>
<g id="p3-sv"><ellipse cx="922" cy="297" rx="2" ry="2"/><text x="926" y="302">sv</text></g>
<g id="p3-el"><ellipse cx="968" cy="297" rx="2" ry="2"/><text x="972" y="302">el</text></g>
<g id="p3-id"><ellipse cx="752" cy="323" rx="2" ry="2"/><text x="756" y="328">id</text></g>
<g id="p3-ja"><ellipse cx="797" cy="323" rx="2" ry="2"/><text x="801" y="328">ja</text></g>
<g id="p3-lv"><ellipse cx="841" cy="323" rx="2" ry="2"/><text x="845" y="328">lv</text></g>
<g id="p3-nl"><ellipse cx="886" cy="323" rx="4" ry="2"/><text x="891" y="328">nl</text></g>
<g id="p3-sr"><ellipse cx="931" cy="323" rx="2" ry="2"/><text x="935" y="328">sr</text></g>
<g id="p3-vi"><ellipse cx="976" cy="323" rx="2" ry="2"/><text x="980" y="328">vi</text></g>
</g>
<g id="nodes-p4" class="n">
<g id="p4-lv"><ellipse cx="167" cy="344" rx="5" ry="2"/><text x="174" y="349">lv</text></g>
<g id="p4-ckb"><ellipse cx="107" cy="370" rx="2.5" ry="2"/><text x="112" y="375">ckb</text></g>
<g id="p4-es"><ellipse cx="199" cy="379" rx="10" ry="5"/><text x="210" y="384">es</text></g>
<g id="p4-en"><ellipse cx="108" cy="401" rx="12" ry="12.5"/><text x="121" y="406">en</text></g>
<g id="p4-ja"><ellipse cx="243" cy="396" rx="9" ry="6"/><text x="254" y="401">ja</text></g>
<g id="p4-id"><ellipse cx="135" cy="424" rx="5" ry="2.5"/><text x="142" y="429">id</text></g>
<g id="p4-pt"><ellipse cx="75" cy="436" rx="6" ry="5"/><text x="83" y="441">pt</text></g>
<g id="p4-arz"><ellipse cx="244" cy="432" rx="2.5" ry="2"/><text x="248" y="437">arz</text></g>
<g id="p4-sv"><ellipse cx="282" cy="427" rx="9" ry="2"/><text x="292" y="432">sv</text></g>
<g id="p4-he"><ellipse cx="91" cy="459" rx="6" ry="2.5"/><text x="99" y="464">he</text></g>
<g id="p4-mr"><ellipse cx="190" cy="458" rx="2.5" ry="2"/><text x="194" y="463">mr</text></g>
<g id="p4-da"><ellipse cx="306" cy="462" rx="7" ry="3"/><text x="314" y="467">da</text></g>
<g id="p4-sh"><ellipse cx="69" cy="480" rx="3.5" ry="4"/><text x="75" y="485">sh</text></g>
<g id="p4-ceb"><ellipse cx="199" cy="478" rx="2" ry="2"/><text x="202" y="483">ceb</text></g>
<g id="p4-ko"><ellipse cx="303" cy="489" rx="6" ry="6.5"/><text x="311" y="494">ko</text></g>
<g id="p4-ml"><ellipse cx="24" cy="494" rx="2" ry="2"/><text x="28" y="499">ml</text></g>
<g id="p4-war"><ellipse cx="214" cy="504" rx="2.5" ry="2"/><text x="218" y="509">war</text></g>
<g id="p4-el"><ellipse cx="88" cy="511" rx="4" ry="3.5"/><text x="94" y="516">el</text></g>
<g id="p4-te"><ellipse cx="175" cy="519" rx="2" ry="2"/><text x="179" y="524">te</text></g>
<g id="p4-nl"><ellipse cx="321" cy="519" rx="7" ry="2.5"/><text x="330" y="524">nl</text></g>
<g id="p4-vi"><ellipse cx="71" cy="528" rx="5" ry="2"/><text x="79" y="533">vi</text></g>
<g id="p4-de"><ellipse cx="27" cy="537" rx="11" ry="4"/><text x="40" y="542">de</text></g>
<g id="p4-si"><ellipse cx="185" cy="540" rx="2" ry="2"/><text x="189" y="545">si</text></g>
<g id="p4-mk"><ellipse cx="124" cy="547" rx="3.5" ry="2"/><text x="129" y="552">mk</text></g>
<g id="p4-hi"><ellipse cx="232" cy="554" rx="2" ry="2"/><text x="236" y="559">hi</text></g>
<g id="p4-hu"><ellipse cx="301" cy="547" rx="5.5" ry="6.5"/><text x="308" y="552">hu</text></g>
<g id="p4-zh"><ellipse cx="277" cy="558" rx="7" ry="10"/><text x="286" y="563">zh</text></g>
<g id="p4-ru"><ellipse cx="35" cy="581" rx="10.5" ry="3"/><text x="47" y="586">ru</text></g>
<g id="p4-it"><ellipse cx="282" cy="590" rx="8.5" ry="9"/><text x="293" y="595">it</text></g>
<g id="p4-fr"><ellipse cx="133" cy="601" rx="12" ry="9"/><text x="147" y="606">fr</text></g>
<g id="p4-bs"><ellipse cx="218" cy="612" rx="3.5" ry="5"/><text x="223" y="617">bs</text></g>
<g id="p4-ro"><ellipse cx="139" cy="630" rx="5" ry="4.5"/><text x="146" y="635">ro</text></g>
<g id="p4-pl"><ellipse cx="260" cy="642" rx="7" ry="2.5"/><text x="268" y="647">pl</text></g>
<g id="p4-sr"><ellipse cx="170" cy="659" rx="4" ry="2"/><text x="176" y="664">sr</text></g>
<g id="p4-simple"><ellipse cx="212" cy="662" rx="4" ry="2"/><text x="217" y="667">simple</text></g>
</g>
<g id="nodes-p5" class="n">
<g id="p5-id"><ellipse cx="385" cy="460" rx="10" ry="6"/><text x="397" y="465">id</text></g>
<g id="p5-hu"><ellipse cx="464" cy="458" rx="6" ry="10"/><text x="471" y="463">hu</text></g>
<g id="p5-simple"><ellipse cx="384" cy="504" rx="7" ry="3.5"/><text x="393" y="509">simple</text></g>
<g id="p5-war"><ellipse cx="453" cy="515" rx="2" ry="2"/><text x="457" y="520">war</text></g>
<g id="p5-ml"><ellipse cx="482" cy="514" rx="3.5" ry="2"/><text x="487" y="519">ml</text></g>
<g id="p5-arz"><ellipse cx="510" cy="524" rx="2" ry="2"/><text x="514" y="529">arz</text></g>
<g id="p5-ro"><ellipse cx="554" cy="527" rx="5.5" ry="3"/><text x="561" y="532">ro</text></g>
<g id="p5-vi"><ellipse cx="421" cy="537" rx="8" ry="2.5"/><text x="430" y="542">vi</text></g>
<g id="p5-he"><ellipse cx="509" cy="543" rx="5" ry="2"/><text x="515" y="548">he</text></g>
<g id="p5-da"><ellipse cx="381" cy="545" rx="5" ry="3"/><text x="388" y="550">da</text></g>
<g id="p5-en"><ellipse cx="588" cy="535" rx="2" ry="2"/><text x="592" y="540">en</text></g>
<g id="p5-es"><ellipse cx="617" cy="551" rx="2" ry="2"/><text x="621" y="556">es</text></g>
<g id="p5-zh"><ellipse cx="634" cy="563" rx="2" ry="2"/><text x="638" y="568">zh</text></g>
<g id="p5-sv"><ellipse cx="608" cy="493" rx="2" ry="2"/><text x="612" y="498">sv</text></g>
<g id="p5-pt"><ellipse cx="648" cy="485" rx="2" ry="2"/><text x="652" y="490">pt</text></g>
<g id="p5-fr"><ellipse cx="679" cy="507" rx="2" ry="2"/><text x="683" y="512">fr</text></g>
<g id="p5-it"><ellipse cx="691" cy="542" rx="2" ry="2"/><text x="695" y="547">it</text></g>
<g id="p5-de"><ellipse cx="665" cy="582" rx="2" ry="2"/><text x="669" y="587">de</text></g>
<g id="p5-pl"><ellipse cx="379" cy="569" rx="2" ry="2"/><text x="383" y="574">pl</text></g>
<g id="p5-hi"><ellipse cx="416" cy="578" rx="5" ry="2"/><text x="423" y="583">hi</text></g>
<g id="p5-ckb"><ellipse cx="543" cy="574" rx="2" ry="2"/><text x="547" y="579">ckb</text></g>
<g id="p5-el"><ellipse cx="563" cy="577" rx="2" ry="2"/><text x="567" y="582">el</text></g>
<g id="p5-nl"><ellipse cx="379" cy="588" rx="2" ry="2"/><text x="383" y="593">nl</text></g>
<g id="p5-te"><ellipse cx="503" cy="588" rx="2" ry="2"/><text x="507" y="593">te</text></g>
<g id="p5-mr"><ellipse cx="519" cy="601" rx="3.5" ry="2"/><text x="524" y="606">mr</text></g>
<g id="p5-sr"><ellipse cx="435" cy="604" rx="5" ry="2"/><text x="442" y="609">sr</text></g>
<g id="p5-si"><ellipse cx="459" cy="606" rx="2" ry="2"/><text x="463" y="611">si</text></g>
<g id="p5-ceb"><ellipse cx="379" cy="610" rx="2" ry="2"/><text x="383" y="615">ceb</text></g>
<g id="p5-ru"><ellipse cx="574" cy="616" rx="2" ry="2"/><text x="578" y="621">ru</text></g>
<g id="p5-ko"><ellipse cx="647" cy="629" rx="2" ry="2"/><text x="651" y="634">ko</text></g>
<g id="p5-mk"><ellipse cx="481" cy="628" rx="10" ry="2"/><text x="492" y="633">mk</text></g>
<g id="p5-ja"><ellipse cx="609" cy="635" rx="2" ry="2"/><text x="613" y="640">ja</text></g>
<g id="p5-lv"><ellipse cx="541" cy="639" rx="6" ry="2"/><text x="549" y="644">lv</text></g>
<g id="p5-sh"><ellipse cx="497" cy="647" rx="6" ry="2.5"/><text x="505" y="652">sh</text></g>
<g id="p5-bs"><ellipse cx="439" cy="665" rx="2" ry="2"/><text x="443" y="670">bs</text></g>
</g>
<g id="nodes-p6" class="n">
<g id="p6-simple"><ellipse cx="831" cy="419" rx="2" ry="2"/><text x="835" y="424">simple</text></g>
<g id="p6-el"><ellipse cx="888" cy="416" rx="2" ry="2"/><text x="891" y="421">el</text></g>
<g id="p6-lv"><ellipse cx="922" cy="415" rx="2" ry="2"/><text x="926" y="420">lv</text></g>
<g id="p6-id"><ellipse cx="790" cy="442" rx="2" ry="2"/><text x="794" y="447">id</text></g>
<g id="p6-hu"><ellipse cx="820" cy="441" rx="2" ry="2"/><text x="824" y="446">hu</text></g>
<g id="p6-sh"><ellipse cx="937" cy="437" rx="2" ry="2"/><text x="941" y="442">sh</text></g>
<g id="p6-vi"><ellipse cx="967" cy="443" rx="2" ry="2"/><text x="971" y="448">vi</text></g>
<g id="p6-sr"><ellipse cx="762" cy="485" rx="2" ry="2"/><text x="766" y="490">sr</text></g>
<g id="p6-arz"><ellipse cx="802" cy="486" rx="2" ry="2"/><text x="806" y="491">arz</text></g>
<g id="p6-te"><ellipse cx="902" cy="484" rx="2" ry="2"/><text x="906" y="489">te</text></g>
<g id="p6-bs"><ellipse cx="925" cy="495" rx="2" ry="2"/><text x="929" y="500">bs</text></g>
<g id="p6-war"><ellipse cx="952" cy="490" rx="2" ry="2"/><text x="956" y="495">war</text></g>
<g id="p6-ja"><ellipse cx="996" cy="491" rx="2" ry="2"/><text x="1000" y="496">ja</text></g>
<g id="p6-he"><ellipse cx="802" cy="522" rx="2" ry="2"/><text x="806" y="527">he</text></g>
<g id="p6-ckb"><ellipse cx="851" cy="517" rx="2" ry="2"/><text x="855" y="522">ckb</text></g>
<g id="p6-hi"><ellipse cx="877" cy="517" rx="2" ry="2"/><text x="881" y="522">hi</text></g>
<g id="p6-ro"><ellipse cx="755" cy="536" rx="2" ry="2"/><text x="759" y="541">ro</text></g>
<g id="p6-si"><ellipse cx="922" cy="528" rx="2" ry="2"/><text x="926" y="533">si</text></g>
<g id="p6-mr"><ellipse cx="871" cy="538" rx="2" ry="2"/><text x="875" y="543">mr</text></g>
<g id="p6-it"><ellipse cx="1006" cy="532" rx="11" ry="4.5"/><text x="1018" y="537">it</text></g>
<g id="p6-ko"><ellipse cx="823" cy="556" rx="2" ry="2"/><text x="827" y="561">ko</text></g>
<g id="p6-en"><ellipse cx="747" cy="572" rx="12" ry="12"/><text x="761" y="577">en</text></g>
<g id="p6-pt"><ellipse cx="992" cy="567" rx="2" ry="2"/><text x="996" y="572">pt</text></g>
<g id="p6-ceb"><ellipse cx="906" cy="576" rx="2" ry="2"/><text x="910" y="581">ceb</text></g>
<g id="p6-zh"><ellipse cx="963" cy="592" rx="2" ry="2"/><text x="967" y="597">zh</text></g>
<g id="p6-es"><ellipse cx="1043" cy="597" rx="5" ry="2"/><text x="1050" y="602">es</text></g>
<g id="p6-sv"><ellipse cx="784" cy="609" rx="2" ry="2"/><text x="788" y="614">sv</text></g>
<g id="p6-de"><ellipse cx="852" cy="600" rx="2" ry="2"/><text x="856" y="605">de</text></g>
<g id="p6-ru"><ellipse cx="927" cy="613" rx="5" ry="2"/><text x="934" y="618">ru</text></g>
<g id="p6-da"><ellipse cx="812" cy="628" rx="2" ry="2"/><text x="816" y="633">da</text></g>
<g id="p6-pl"><ellipse cx="882" cy="630" rx="4" ry="2"/><text x="888" y="635">pl</text></g>
<g id="p6-fr"><ellipse cx="1001" cy="626" rx="2" ry="2"/><text x="1005" y="631">fr</text></g>
<g id="p6-ml"><ellipse cx="834" cy="663" rx="2" ry="2"/><text x="838" y="668">ml</text></g>
<g id="p6-nl"><ellipse cx="972" cy="664" rx="3.5" ry="2"/><text x="977" y="669">nl</text></g>
</g>
</svg>
